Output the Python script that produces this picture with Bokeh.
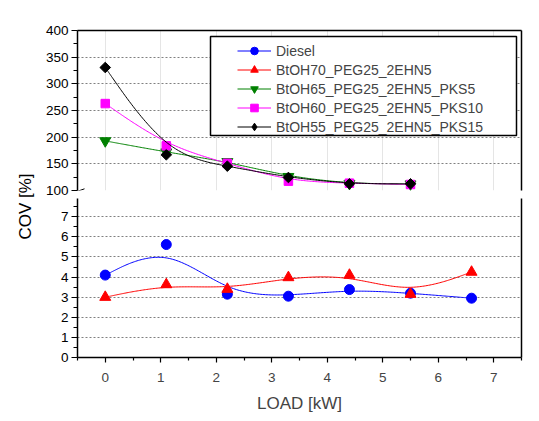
import numpy as np
from bokeh.plotting import figure
from bokeh.layouts import row, column
from bokeh.models import (Range1d, LinearAxis, FixedTicker, Legend, LegendItem,
                          BoxAnnotation, Arrow, Label)
from bokeh.embed import file_html
from bokeh.resources import INLINE

# ---------------- data ----------------
load_all = [0, 1.1, 2.2, 3.3, 4.4, 5.5, 6.6]
load_pks = [0, 1.1, 2.2, 3.3, 4.4, 5.5]
diesel = [4.1, 5.62, 3.15, 3.05, 3.38, 3.2, 2.95]
btoh70 = [3.0, 3.63, 3.4, 3.98, 4.1, 3.15, 4.25]
btoh65 = [193, 172, 154, 126, 113, 112]
btoh60 = [263, 183.7, 151, 117.5, 113.7, 111.3]
btoh55 = [330.6, 166.9, 145.6, 124.4, 112.5, 112.5]

names = ["Diesel", "BtOH70_PEG25_2EHN5", "BtOH65_PEG25_2EHN5_PKS5",
         "BtOH60_PEG25_2EHN5_PKS10", "BtOH55_PEG25_2EHN5_PKS15"]

x_ticks = [0, 1, 2, 3, 4, 5, 6, 7]
x_minor = [-0.5, 0.5, 1.5, 2.5, 3.5, 4.5, 5.5, 6.5, 7.5]
upper_ticks = [100, 150, 200, 250, 300, 350, 400]
upper_minor = [125, 175, 225, 275, 325, 375]
upper_grid = [150, 200, 250, 300, 350]
lower_ticks = [0, 1, 2, 3, 4, 5, 6, 7]
lower_minor = [0.5, 1.5, 2.5, 3.5, 4.5, 5.5, 6.5, 7.5]
lower_grid = [1, 2, 3, 4, 5, 6, 7]

FONT = "Liberation Sans"


def bspline(xs, ys, per=40):
    """Uniform cubic B-spline with tripled end control points (Origin 'B-Spline' connect)."""
    P = np.column_stack([xs, ys]).astype(float)
    Q = np.vstack([P[0], P[0], P, P[-1], P[-1]])
    u = np.linspace(0, 1, per, endpoint=False)
    b0 = (1 - u) ** 3 / 6
    b1 = (3 * u ** 3 - 6 * u ** 2 + 4) / 6
    b2 = (-3 * u ** 3 + 3 * u ** 2 + 3 * u + 1) / 6
    b3 = u ** 3 / 6
    segs = []
    for i in range(len(Q) - 3):
        seg = (np.outer(b0, Q[i]) + np.outer(b1, Q[i + 1])
               + np.outer(b2, Q[i + 2]) + np.outer(b3, Q[i + 3]))
        segs.append(seg)
    segs.append(P[-1:])
    C = np.vstack(segs)
    return C[:, 0], C[:, 1]


xr = Range1d(-0.5, 7.5)


def style_common(p):
    p.outline_line_color = None
    p.background_fill_color = "white"
    p.border_fill_color = "white"


def add_blank_axis(p, side):
    ax = LinearAxis(ticker=FixedTicker(ticks=[]), major_label_text_font_size="0px",
                    major_tick_out=0, major_tick_in=0, minor_tick_out=0, minor_tick_in=0,
                    major_label_standoff=0, axis_line_width=1.5, axis_line_color="black")
    p.add_layout(ax, side)


def style_yaxis(ax, ticks, minor):
    ax.ticker = FixedTicker(ticks=ticks, minor_ticks=minor)
    ax.major_tick_in = 0
    ax.major_tick_out = 6
    ax.minor_tick_in = 0
    ax.minor_tick_out = 4
    ax.axis_line_width = 1.5
    ax.major_tick_line_width = 1.2
    ax.minor_tick_line_width = 1.2
    ax.major_label_text_font = FONT
    ax.major_label_text_font_size = "13.5px"
    ax.major_label_text_color = "black"
    ax.major_label_standoff = 3


# ---------------- upper panel ----------------
pt = figure(width=491, height=198, x_range=xr, y_range=Range1d(100, 400),
            output_backend="svg", toolbar_location=None, x_axis_location=None,
            min_border_left=37, min_border_right=10, min_border_top=30, min_border_bottom=8)
style_common(pt)
style_yaxis(pt.yaxis[0], upper_ticks, upper_minor)
pt.ygrid.ticker = FixedTicker(ticks=upper_grid)
pt.ygrid.grid_line_color = "#808080"
pt.ygrid.grid_line_dash = "2 2"
pt.ygrid.grid_line_width = 1
add_blank_axis(pt, "above")
add_blank_axis(pt, "right")

# ---------------- lower panel ----------------
pb = figure(width=491, height=217, x_range=xr, y_range=Range1d(0, 7.91),
            output_backend="svg", toolbar_location=None,
            min_border_left=37, min_border_right=10, min_border_top=0, min_border_bottom=58)
style_common(pb)
style_yaxis(pb.yaxis[0], lower_ticks, lower_minor)
pb.ygrid.ticker = FixedTicker(ticks=lower_grid)
pb.ygrid.grid_line_color = "#808080"
pb.ygrid.grid_line_dash = "2 2"
pb.ygrid.grid_line_width = 1
pb.xgrid.visible = False
xa = pb.xaxis[0]
xa.ticker = FixedTicker(ticks=x_ticks, minor_ticks=x_minor)
xa.major_tick_in = 0
xa.major_tick_out = 5
xa.minor_tick_in = 0
xa.minor_tick_out = 3
xa.axis_line_width = 1.5
xa.major_tick_line_width = 1.2
xa.minor_tick_line_width = 1.2
xa.major_label_text_font = FONT
xa.major_label_text_font_size = "13.5px"
xa.major_label_standoff = 10
xa.axis_label = "LOAD [kW]"
xa.axis_label_text_font = FONT
xa.axis_label_text_font_size = "17px"
xa.axis_label_text_font_style = "normal"
xa.axis_label_standoff = 9
add_blank_axis(pb, "right")

# ---------------- series ----------------
lw = 1
sx, sy = bspline(load_all, diesel)
pb.line(sx, sy, color="blue", line_width=lw)
pb.scatter(load_all, diesel, marker="circle", size=10, color="blue")
sx, sy = bspline(load_all, btoh70)
pb.line(sx, sy, color="red", line_width=lw)
pb.scatter(load_all, btoh70, marker="triangle", size=11, color="red")

sx, sy = bspline(load_pks, btoh65)
g_l = pt.line(sx, sy, color="#008000", line_width=lw)
g_s = pt.scatter(load_pks, btoh65, marker="inverted_triangle", size=11, color="#008000")
sx, sy = bspline(load_pks, btoh60)
m_l = pt.line(sx, sy, color="#FF00FF", line_width=lw)
m_s = pt.scatter(load_pks, btoh60, marker="square", size=8.5, color="#FF00FF")
sx, sy = bspline(load_pks, btoh55)
k_l = pt.line(sx, sy, color="black", line_width=lw)
k_s = pt.scatter(load_pks, btoh55, marker="square", angle=np.pi / 4, size=7.5, color="black")

# hidden legend-only renderers in the upper panel (same data, not drawn)
d_l = pt.line(load_all, diesel, color="blue", line_width=lw, visible=False)
d_s = pt.scatter(load_all, diesel, marker="circle", color="blue", visible=False)
r_l = pt.line(load_all, btoh70, color="red", line_width=lw, visible=False)
r_s = pt.scatter(load_all, btoh70, marker="triangle", color="red", visible=False)
k_d = pt.scatter(load_pks, btoh55, marker="diamond", color="black", visible=False)

# legend box + legend
box = BoxAnnotation(left=133, right=439, bottom=55, top=154,
                    left_units="screen", right_units="screen",
                    bottom_units="screen", top_units="screen",
                    fill_color="white", fill_alpha=1.0,
                    line_color="black", line_width=1.5, line_alpha=1.0)
pt.add_layout(box)
legend = Legend(items=[
    LegendItem(label=names[0], renderers=[d_l, d_s]),
    LegendItem(label=names[1], renderers=[r_l, r_s]),
    LegendItem(label=names[2], renderers=[g_l, g_s]),
    LegendItem(label=names[3], renderers=[m_l, m_s]),
    LegendItem(label=names[4], renderers=[k_l, k_d]),
], location=(160, 54), border_line_alpha=0, background_fill_alpha=0,
    inactive_fill_alpha=0,
    padding=0, margin=0, spacing=0, glyph_width=34, glyph_height=19,
    label_height=19, label_standoff=5, label_text_font=FONT,
    label_text_font_size="14px")
pt.add_layout(legend)

# axis break marks (both drawn in the upper panel's bottom border)
for dx in (0, 444):
    pt.add_layout(Arrow(end=None, x_start=dx - 7, y_start=-3.3, x_end=dx + 7, y_end=1.7,
                        start_units="screen", end_units="screen",
                        line_color="black", line_width=1))
    pt.add_layout(Arrow(end=None, x_start=dx - 7, y_start=-8.5, x_end=dx + 7, y_end=-3.8,
                        start_units="screen", end_units="screen",
                        line_color="black", line_width=1))

# ---------------- y-axis title ----------------
pl = figure(width=40, height=415, output_backend="svg", toolbar_location=None,
            x_axis_location=None, y_axis_location=None,
            min_border_left=0, min_border_right=0, min_border_top=0, min_border_bottom=0)
pl.outline_line_color = None
pl.xgrid.visible = False
pl.ygrid.visible = False
pl.add_layout(Label(x=25, y=209, x_units="screen", y_units="screen", text="COV [%]",
                    angle=np.pi / 2, text_align="center", text_baseline="middle",
                    text_font=FONT, text_font_size="17px", text_color="black"))

layout = row(pl, column(pt, pb, spacing=0), spacing=0)
open("out.html", "w").write(file_html(layout, INLINE))
